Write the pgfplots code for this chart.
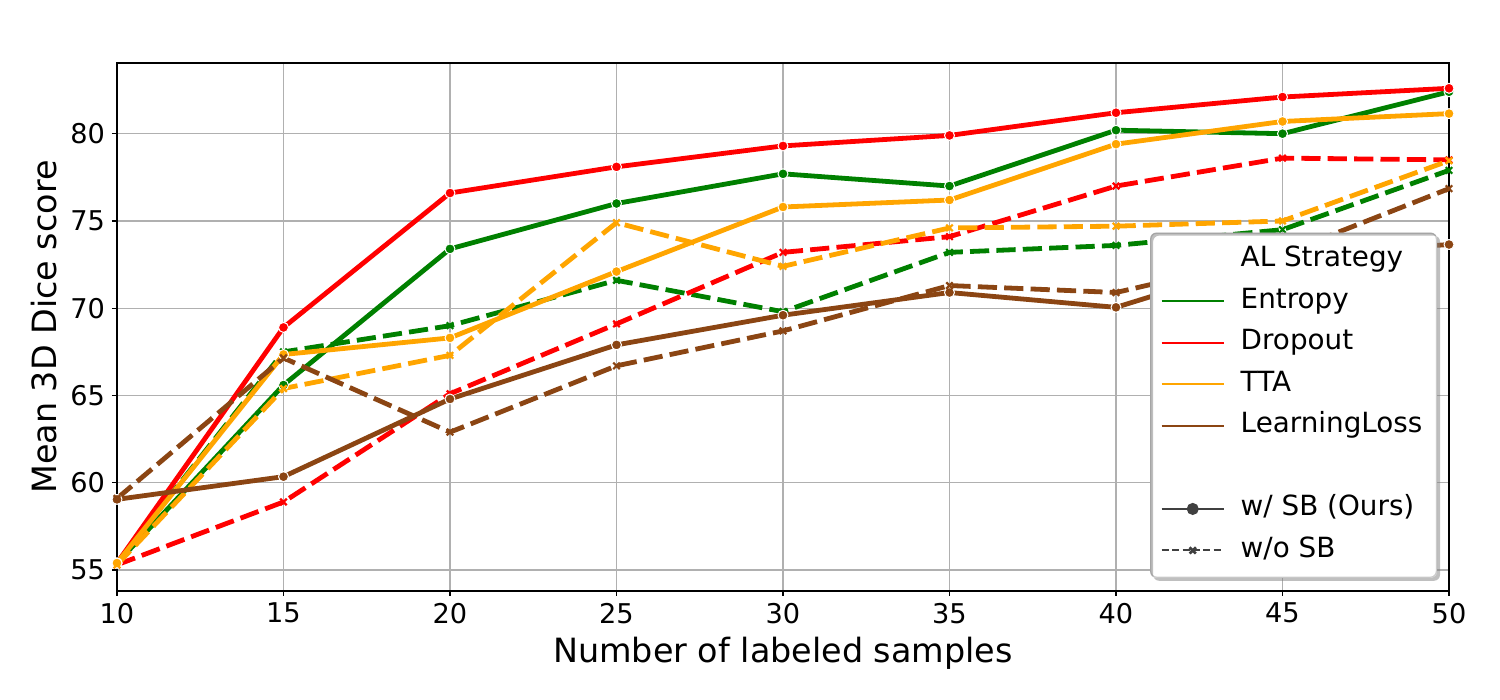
\documentclass[border=0pt]{standalone}
\usepackage{pgfplots}
\pgfplotsset{compat=1.18}
\usepackage{fontspec}
\setmainfont{DejaVu Sans}
\definecolor{mgreen}{RGB}{0,128,0}
\definecolor{mred}{RGB}{255,0,0}
\definecolor{morange}{RGB}{255,165,0}
\definecolor{mbrown}{RGB}{139,69,19}
\definecolor{mgray}{RGB}{64,64,64}
\definecolor{gridgray}{RGB}{176,176,176}
\definecolor{legedge}{RGB}{204,204,204}
\pgfplotsset{
  solidS/.style={color=#1, line width=2.4pt, line join=round, mark=*, mark size=2.5pt,
    mark options={solid, fill=#1, draw=white, line width=0.5pt}},
  dashedS/.style={color=#1, line width=2.4pt, line join=round, dash pattern=on 9.6pt off 3.6pt,
    mark=x, mark size=2.3pt, mark options={solid, line width=1.1pt, color=#1}},
}
\begin{document}
\begin{tikzpicture}
\begin{axis}[
  name=ax,
  width=666pt, height=264pt, scale only axis,
  xmin=10, xmax=50, ymin=53.8, ymax=84.05,
  xtick={10,15,...,50}, ytick={55,60,...,80},
  grid=major, major grid style={color=gridgray, line width=0.6pt},
  axis line style={black, line width=0.7pt},
  tick style={black, line width=0.6pt},
  tick align=outside, major tick length=2.5pt,
  xtick pos=bottom, ytick pos=left,
  /pgf/number format/assume math mode=true,
  ticklabel style={font=\fontsize{13.6}{16}\selectfont},
  label style={font=\fontsize{16.7}{20}\selectfont},
  xlabel={Number of labeled samples},
  ylabel={Mean 3D Dice score},
  legend image code/.code={\draw[mark repeat=2,mark phase=2,#1] plot coordinates {(0pt,0pt) (15.5pt,0pt) (31pt,0pt)};},
  legend cell align=left,
  legend style={name=leg, at={(0.991,0.025)}, anchor=south east,
    draw=legedge, line width=0.6pt, fill=white, rounded corners=3pt,
    font=\fontsize{13.9}{16}\selectfont,
    inner xsep=5pt, inner ysep=3pt,
    /tikz/every odd column/.append style={column sep=6pt},
    nodes={minimum height=20.75pt, inner ysep=0pt, text height=10pt, text depth=3pt}},
]
\addlegendimage{empty legend}\addlegendentry{AL Strategy}
\addlegendimage{mgreen, line width=1pt}\addlegendentry{Entropy}
\addlegendimage{mred, line width=1pt}\addlegendentry{Dropout}
\addlegendimage{morange, line width=1pt}\addlegendentry{TTA}
\addlegendimage{mbrown, line width=1pt}\addlegendentry{LearningLoss}
\addlegendimage{empty legend}\addlegendentry{}
\addlegendimage{mgray, line width=1pt, mark=*, mark size=2.5pt, mark options={solid, fill=mgray, draw=mgray}}\addlegendentry{w/ SB (Ours)}
\addlegendimage{mgray, line width=1pt, dash pattern=on 3.5pt off 1.7pt, mark=x, mark size=2.2pt, mark options={solid, line width=1.3pt}}\addlegendentry{w/o SB}

% Entropy
\addplot[solidS=mgreen] coordinates {(10,55.4) (15,65.6) (20,73.4) (25,76.0) (30,77.7) (35,77.0) (40,80.2) (45,80.0) (50,82.4)};
\addplot[dashedS=mgreen] coordinates {(10,55.4) (15,67.5) (20,69.0) (25,71.6) (30,69.8) (35,73.2) (40,73.6) (45,74.5) (50,77.9)};
% Dropout
\addplot[solidS=mred] coordinates {(10,55.4) (15,68.9) (20,76.6) (25,78.1) (30,79.3) (35,79.9) (40,81.2) (45,82.1) (50,82.6)};
\addplot[dashedS=mred] coordinates {(10,55.3) (15,58.9) (20,65.1) (25,69.1) (30,73.2) (35,74.1) (40,77.0) (45,78.6) (50,78.5)};
% TTA
\addplot[solidS=morange] coordinates {(10,55.4) (15,67.35) (20,68.3) (25,72.1) (30,75.8) (35,76.2) (40,79.4) (45,80.7) (50,81.15)};
\addplot[dashedS=morange] coordinates {(10,55.3) (15,65.4) (20,67.3) (25,74.9) (30,72.4) (35,74.6) (40,74.7) (45,75.0) (50,78.45)};
% LearningLoss
\addplot[solidS=mbrown] coordinates {(10,59.05) (15,60.35) (20,64.8) (25,67.9) (30,69.6) (35,70.9) (40,70.05) (45,73.0) (50,73.65)};
\addplot[dashedS=mbrown] coordinates {(10,59.1) (15,67.15) (20,62.9) (25,66.7) (30,68.7) (35,71.3) (40,70.9) (45,73.1) (50,76.85)};
\end{axis}
\fill[gray, opacity=0.5, even odd rule, rounded corners=3pt]
  ([shift={(1.5pt,-1.5pt)}]leg.south west) rectangle ([shift={(1.5pt,-1.5pt)}]leg.north east)
  (leg.south west) rectangle (leg.north east);
\path (ax.south west) ++(-58.5pt,-54.5pt) coordinate (bl);
\path (ax.north east) ++(25.5pt,31.5pt) coordinate (tr);
\path (bl) rectangle (tr);
\end{tikzpicture}
\end{document}
